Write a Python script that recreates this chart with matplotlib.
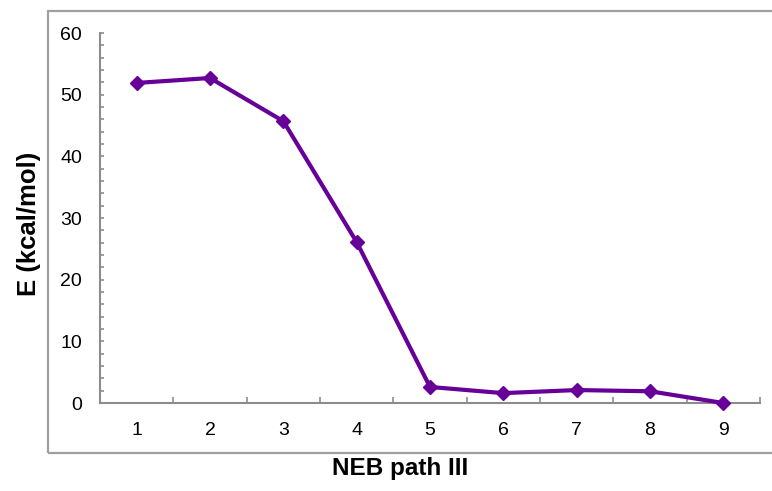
import matplotlib
matplotlib.use("Agg")
import matplotlib.pyplot as plt
from matplotlib.patches import Rectangle
from matplotlib.ticker import MultipleLocator, FixedLocator

plt.rcParams['font.family'] = ['Liberation Sans', 'DejaVu Sans']

# NEB path images and energies (kcal/mol)
images = [1, 2, 3, 4, 5, 6, 7, 8, 9]
energy = [51.9, 52.7, 45.7, 26.1, 2.6, 1.6, 2.1, 1.9, 0.0]
yticks = [0, 10, 20, 30, 40, 50, 60]

axis_gray = '#8c8c8c'
purple = '#660099'

fig = plt.figure(figsize=(7.72, 4.91), dpi=100)
ax = fig.add_axes([100 / 772, 1 - 403 / 491, 660 / 772, 370 / 491])

# outer chart frame (runs off the right edge)
fig.patches.append(Rectangle((48 / 772, 1 - 453 / 491), 1.0, 442 / 491,
                             transform=fig.transFigure, fill=False,
                             edgecolor='#a0a0a0', linewidth=1.6, clip_on=False))

ax.plot(images, energy, color=purple, linewidth=3.0, marker='D',
        markersize=7.5, clip_on=False, zorder=3)

ax.set_xlim(0.5, 9.5)
ax.set_ylim(0, 60)
ax.set_xticks(images)
ax.set_xticklabels([str(i) for i in images])
ax.xaxis.set_minor_locator(FixedLocator([i + 0.5 for i in range(0, 10)]))
ax.set_yticks(yticks)
ax.yaxis.set_minor_locator(MultipleLocator(2))

for s in ['top', 'right']:
    ax.spines[s].set_visible(False)
for s in ['left', 'bottom']:
    ax.spines[s].set_color(axis_gray)
    ax.spines[s].set_linewidth(1.5)

ax.tick_params(axis='x', which='major', length=0, pad=14, labelsize=14)
ax.tick_params(axis='x', which='minor', direction='in', length=4,
               color=axis_gray, width=1.2)
ax.tick_params(axis='y', which='major', direction='in', length=3,
               color=axis_gray, width=1.2, pad=13, labelsize=14)
ax.tick_params(axis='y', which='minor', direction='in', length=3,
               color=axis_gray, width=1.2)

ax.set_xlabel('NEB path III', fontsize=17.5, fontweight='bold')
ax.set_ylabel('E (kcal/mol)', fontsize=18.5, fontweight='bold')
ax.xaxis.set_label_coords((400 - 100) / 660, -(468 - 403) / 370)
ax.yaxis.set_label_coords(-(100 - 29) / 660, (403 - 224) / 370)
ax.xaxis.label.set_va('center')
ax.yaxis.label.set_va('center')

fig.savefig('out.png', dpi=100)
